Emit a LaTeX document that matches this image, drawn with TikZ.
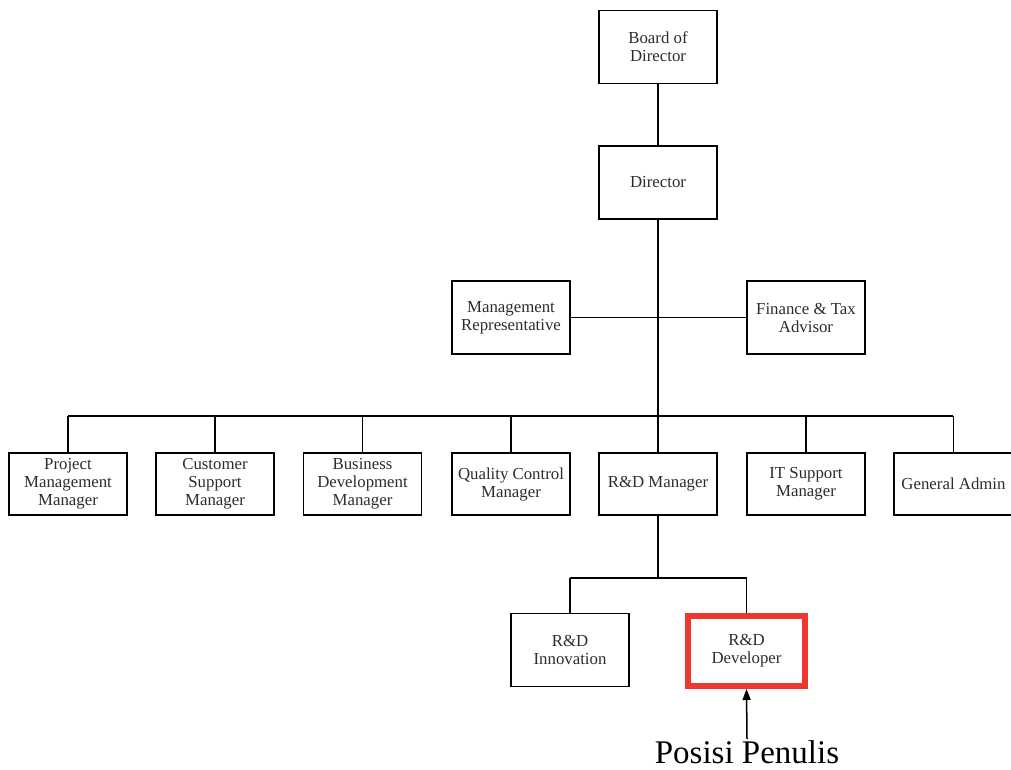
\documentclass[tikz,border=0pt]{standalone}
\usepackage{fontspec}
\setmainfont{Liberation Serif}
\usetikzlibrary{arrows.meta}
\definecolor{txt}{RGB}{45,45,45}
\definecolor{hl}{RGB}{240,55,45}
\tikzset{
  box/.style={draw=black, line width=1.4pt, fill=white, minimum width=118pt, minimum height=73pt,
    inner sep=1pt, align=center, text=txt, font=\fontsize{16.8}{18}\selectfont},
  lowbox/.style={box, minimum height=62pt},
  link/.style={draw=black, line width=1.4pt},
  redbox/.style={box, draw=hl, line width=6pt, minimum width=117pt, minimum height=70pt}
}
\begin{document}
\begin{tikzpicture}[x=1pt,y=-1pt]
\useasboundingbox (0,0) rectangle (1011,769);
\fill[white] (0,0) rectangle (1011,769);
% top
\node[box] (bod) at (658,47) {Board of\\Director};
\node[box] (dir) at (658,182.5) {Director};
\node[box] (mr) at (511,317.5) {Management\\Representative};
\node[box] (ft) at (806,317.5) {Finance \& Tax\\Advisor};
% bottom row
\node[lowbox] (pm) at (68,484) {Project\\Management\\Manager};
\node[lowbox] (cs) at (215,484) {Customer\\Support\\Manager};
\node[lowbox] (bd) at (362.5,484) {Business\\Development\\Manager};
\node[lowbox] (qc) at (511,484) {Quality Control\\Manager};
\node[lowbox] (rdm) at (658,484) {R\&D Manager};
\node[lowbox] (it) at (806,484) {IT Support\\Manager};
\node[lowbox, minimum width=119pt] (ga) at (953.5,484) {General Admin};
% R&D children
\node[box] (rdi) at (570,650) {R\&D\\Innovation};
\node[redbox] (rdd) at (746.5,651) {R\&D\\Developer};
\node[font=\fontsize{33}{34}\selectfont, text=black, inner sep=0pt] (pos) at (747,752) {Posisi Penulis};
% coordinates
\coordinate (busL) at (68,416);
\coordinate (busR) at (953,416);
\coordinate (rdbusL) at (570,578);
\coordinate (rdbusR) at (747,578);
\coordinate (arrTail) at (747,739);
% connectors
\draw[link] (bod) -- (dir);
\draw[link] (dir) -- (rdm);
\draw[link] (mr) -- (ft);
\draw[link] (busL) -- (busR);
\foreach \n in {pm,cs,bd,qc,it,ga} {
  \draw[link] (\n.north) -- (\n.north |- busL);
}
\draw[link] (rdm) -- (rdm.south |- rdbusL);
\draw[link] (rdbusL) -- (rdbusR);
\draw[link] (rdi.north) -- (rdi.north |- rdbusL);
\draw[link] (rdd.north) -- (rdd.north |- rdbusR);
\draw[line width=1.5pt, -{Triangle[length=11pt,width=8pt]}] (arrTail) -- (rdd.south);
\end{tikzpicture}
\end{document}
